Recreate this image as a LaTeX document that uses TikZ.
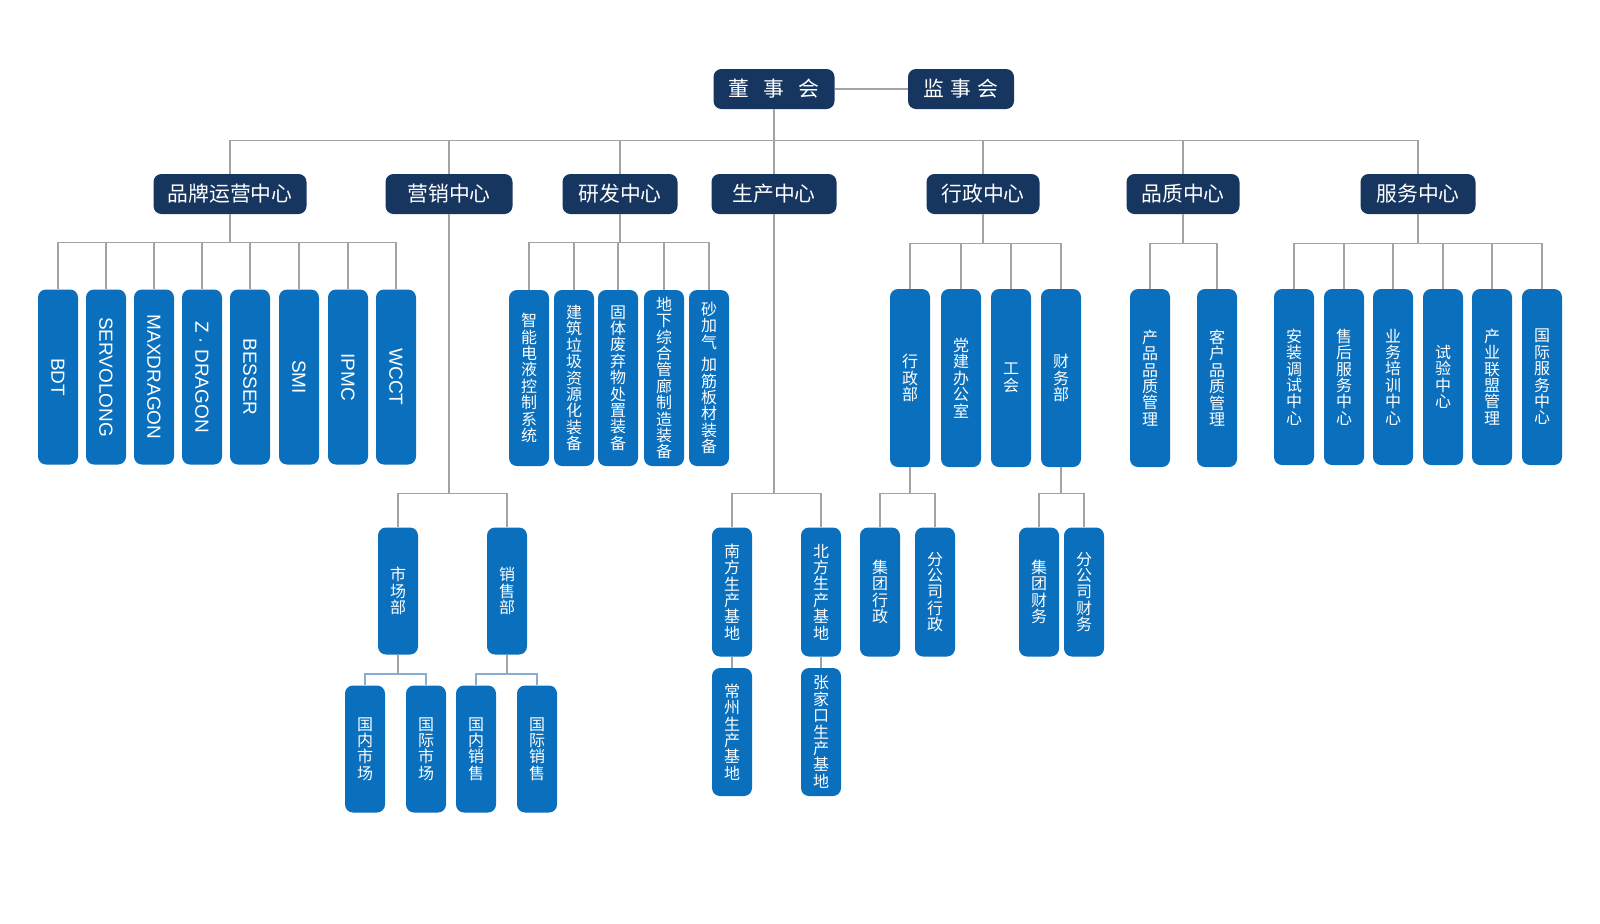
\documentclass[tikz,border=0pt]{standalone}
\usepackage{graphicx}
\usepackage{fontspec}
\setmainfont{Liberation Sans}
\newfontfamily\cjk{Noto Sans CJK SC}
\definecolor{boardnavy}{HTML}{17365F}
\definecolor{unitblue}{HTML}{0A6FBD}
\definecolor{linkgray}{HTML}{A3A3A3}
\definecolor{linkblue}{HTML}{8AAED3}

\tikzset{
    headbox/.style={fill=boardnavy, text=white, rounded corners=4pt,
        minimum height=20pt, inner sep=0pt,
        font=\cjk\fontsize{10.4}{12}\selectfont},
    unitbox/.style={fill=unitblue, text=white, rounded corners=4pt,
        minimum width=20pt, inner sep=0pt, align=center,
        font=\cjk\fontsize{8}{8.2}\selectfont},
    brandbox/.style={unitbox, minimum height=87.5pt,
        font=\fontsize{9.5}{11}\selectfont},
    link/.style={draw=linkgray, line width=0.55pt},
    sublink/.style={draw=linkblue, line width=0.6pt},
}

\begin{document}
\begin{tikzpicture}[x=0.5pt, y=-0.5pt]
    \useasboundingbox (0,0) rectangle (1600,923);

    % Board
        \node[headbox, minimum width=60.5pt] (dsh) at (774,89) {董\hspace{7pt}事\hspace{7pt}会};
        \node[headbox, minimum width=53pt] (jsh) at (961,89) {监\hspace{3pt}事\hspace{3pt}会};
        \draw[link] (dsh) -- (jsh);

    % Centres
        \node[headbox, minimum width=76.5pt] (ppc) at (230,194) {品牌运营中心};
        \node[headbox, minimum width=63.5pt] (yxc) at (449,194) {营销中心};
        \node[headbox, minimum width=57.5pt] (yfc) at (620,194) {研发中心};
        \node[headbox, minimum width=62.5pt] (scc) at (774,194) {生产中心};
        \node[headbox, minimum width=56.5pt] (xzc) at (983,194) {行政中心};
        \node[headbox, minimum width=56.5pt] (pzc) at (1183,194) {品质中心};
        \node[headbox, minimum width=57.5pt] (fwc) at (1418,194) {服务中心};
        \foreach \c in {ppc,yxc,yfc,scc,xzc,pzc,fwc}
            \draw[link] (dsh.south) -- +(0,31) -| (\c.north);

    % Departments
        %% brands
        \foreach \x/\n/\t in {58/bdt/BDT, 106/svl/SERVOLONG, 154/mxd/MAXDRAGON,
                202/zdr/{Z · DRAGON}, 250/bss/BESSER, 299/smi/SMI,
                348/ipm/IPMC, 396/wcc/WCCT} {
            \node[brandbox] (\n) at (\x,377) {\rotatebox{-90}{\t}};
            \draw[link] (ppc.south) -- +(0,28) -| (\n.north);
        }

        %% research
        \foreach \x/\n/\t in {529/zndy/{智\\能\\电\\液\\控\\制\\系\\统},
                574/jzlj/{建\\筑\\垃\\圾\\资\\源\\化\\装\\备},
                618/gtfq/{固\\体\\废\\弃\\物\\处\\置\\装\\备},
                664/dxzh/{地\\下\\综\\合\\管\\廊\\制\\造\\装\\备},
                709/sjqj/{砂\\加\\气\\[3pt]加\\筋\\板\\材\\装\\备}} {
            \node[unitbox, minimum height=88pt] (\n) at (\x,378) {\t};
            \draw[link] (yfc.south) -- +(0,28) -| (\n.north);
        }

        %% administration
        \foreach \x/\n/\t in {910/xzb/{行\\政\\部}, 961/djb/{党\\建\\办\\公\\室},
                1011/ghb/{工\\会}, 1061/cwb/{财\\务\\部}} {
            \node[unitbox, minimum height=89pt] (\n) at (\x,378) {\t};
            \draw[link] (xzc.south) -- +(0,29) -| (\n.north);
        }

        %% quality
        \foreach \x/\n/\t in {1150/cpzl/{产\\品\\品\\质\\管\\理},
                1217/khzl/{客\\户\\品\\质\\管\\理}} {
            \node[unitbox, minimum height=89pt] (\n) at (\x,378) {\t};
            \draw[link] (pzc.south) -- +(0,29) -| (\n.north);
        }

        %% service
        \foreach \x/\n/\t in {1294/aztj/{安\\装\\调\\试\\中\\心},
                1344/shfw/{售\\后\\服\\务\\中\\心},
                1393/ywpx/{业\\务\\培\\训\\中\\心},
                1443/syzx/{试\\验\\中\\心},
                1492/cylm/{产\\业\\联\\盟\\管\\理},
                1542/gjfw/{国\\际\\服\\务\\中\\心}} {
            \node[unitbox, minimum height=88pt] (\n) at (\x,377) {\t};
            \draw[link] (fwc.south) -- +(0,29) -| (\n.north);
        }

    % Sections
        %% marketing
        \node[unitbox, minimum height=63.5pt] (scb) at (398,591) {市\\场\\部};
        \node[unitbox, minimum height=63.5pt] (xsb) at (507,591) {销\\售\\部};
        \foreach \n in {scb,xsb}
            \draw[link] (yxc.south) -- +(0,279) -| (\n.north);

        \node[unitbox, minimum height=63.5pt] (gnsc) at (365,749) {国\\内\\市\\场};
        \node[unitbox, minimum height=63.5pt] (gjsc) at (426,749) {国\\际\\市\\场};
        \node[unitbox, minimum height=63.5pt] (gnxs) at (476,749) {国\\内\\销\\售};
        \node[unitbox, minimum height=63.5pt] (gjxs) at (537,749) {国\\际\\销\\售};
        \foreach \n in {gnsc,gjsc}
            \draw[sublink] (scb.south) ++(0,19) -| (\n.north);
        \foreach \n in {gnxs,gjxs}
            \draw[sublink] (xsb.south) ++(0,19) -| (\n.north);
        \draw[link] (scb.south) -- +(0,19);
        \draw[link] (xsb.south) -- +(0,19);

        %% production
        \node[unitbox, minimum height=64.5pt] (nfjd) at (732,592) {南\\方\\生\\产\\基\\地};
        \node[unitbox, minimum height=64.5pt] (bfjd) at (821,592) {北\\方\\生\\产\\基\\地};
        \foreach \n in {nfjd,bfjd}
            \draw[link] (scc.south) -- +(0,279) -| (\n.north);
        \node[unitbox, minimum height=64pt] (czjd) at (732,732) {常\\州\\生\\产\\基\\地};
        \node[unitbox, minimum height=64pt] (zjkjd) at (821,732) {张\\家\\口\\生\\产\\基\\地};
        \draw[link] (nfjd) -- (czjd);
        \draw[link] (bfjd) -- (zjkjd);

        %% administration and finance
        \node[unitbox, minimum height=64.5pt] (jtxz) at (880,592) {集\\团\\行\\政};
        \node[unitbox, minimum height=64.5pt] (fgxz) at (935,592) {分\\公\\司\\行\\政};
        \foreach \n in {jtxz,fgxz}
            \draw[link] (xzb.south) -- +(0,26) -| (\n.north);
        \node[unitbox, minimum height=64.5pt] (jtcw) at (1039,592) {集\\团\\财\\务};
        \node[unitbox, minimum height=64.5pt] (fgcw) at (1084,592) {分\\公\\司\\财\\务};
        \foreach \n in {jtcw,fgcw}
            \draw[link] (cwb.south) -- +(0,26) -| (\n.north);

\end{tikzpicture}
\end{document}
